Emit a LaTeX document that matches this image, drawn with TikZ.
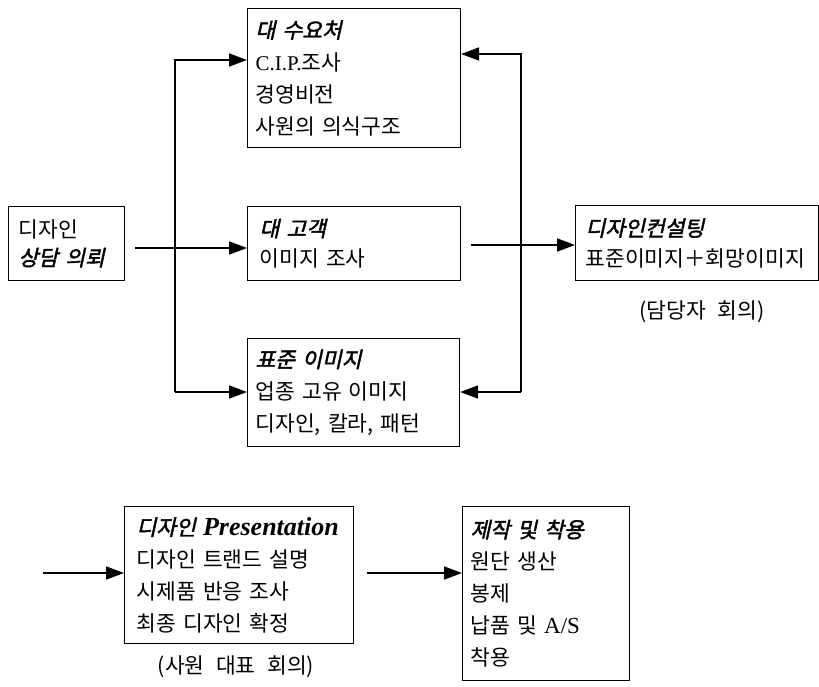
\documentclass[tikz,border=0pt]{standalone}
\usepackage{fontspec}
\usetikzlibrary{arrows.meta}
\newfontfamily\kr{Noto Sans CJK KR}[WordSpace=2.4]
\newfontfamily\krt{Noto Sans CJK KR}[WordSpace=2.4,FakeSlant=0.22,FakeBold=2]
\newfontfamily\lat{Liberation Serif}
\newcommand\latsz[1]{{\lat\fontsize{21}{32}\selectfont #1}}
\tikzset{
  bx/.style={draw, line width=1.1pt, align=left, inner xsep=8pt, anchor=north west,
    font=\kr\fontsize{21.5}{32}\selectfont},
  lbl/.style={font=\kr\fontsize{21.5}{32}\selectfont},
  arr/.style={line width=1.7pt, -{Triangle[length=18pt,width=13pt]}},
}
\begin{document}
\begin{tikzpicture}[x=1pt,y=-1pt]
\useasboundingbox (0,0) rectangle (819,686);
% boxes
\node[bx, inner xsep=10pt, minimum width=116pt, minimum height=74pt, text width=96pt,
  font=\kr\fontsize{21.5}{28}\selectfont] (A) at (8,206)
  {디자인\\{\krt 상담 의뢰}};
\node[bx, minimum width=213pt, minimum height=139pt, text width=197pt] (B) at (247,8)
  {{\krt 대 수요처}\\\latsz{C.I.P.}조사\\경영비전\\사원의 의식구조};
\node[bx, inner xsep=12pt, minimum width=213pt, minimum height=74pt, text width=189pt,
  font=\kr\fontsize{21.5}{30}\selectfont] (C) at (247,206)
  {{\krt 대 고객}\\이미지 조사};
\node[bx, minimum width=212pt, minimum height=108pt, text width=196pt] (D) at (247,338)
  {{\krt 표준 이미지}\\업종 고유 이미지\\디자인, 칼라, 패턴};
\node[bx, inner xsep=10pt, minimum width=243pt, minimum height=75pt, text width=223pt,
  font=\kr\fontsize{21.5}{30}\selectfont] (E) at (575,205)
  {{\krt 디자인컨설팅}\\표준이미지＋회망이미지};
\node[bx, inner xsep=12pt, minimum width=229pt, minimum height=137pt, text width=205pt] (F) at (124,506)
  {{\krt 디자인 {\lat\bfseries\itshape\fontsize{26}{32}\selectfont Presentation}}\\디자인 트랜드 설명\\시제품 반응 조사\\최종 디자인 확정};
\node[bx, minimum width=167pt, minimum height=174pt, text width=151pt] (G) at (462,506)
  {{\krt 제작 및 착용}\\원단 생산\\봉제\\납품 및 {\lat\fontsize{23}{32}\selectfont A/S}\\착용};
% labels
\node[lbl] (L1) at (702,312) {(담당자 회의)};
\node[lbl] (L2) at (236,667) {(사원 대표 회의)};
% connectors
\coordinate (a1) at (135,248);
\draw[arr] (a1) -- (a1 -| C.west);
\coordinate (jt) at (175,60);
\coordinate (jb) at (175,392);
\draw[arr] (jb) -- (jt) -- (jt -| B.west);
\draw[arr] (jb) -- (jb -| D.west);
\coordinate (c1) at (471,245);
\draw[arr] (c1) -- (c1 -| E.west);
\coordinate (rt) at (521,54);
\coordinate (rb) at (521,392);
\draw[arr] (rb) -- (rt) -- (rt -| B.east);
\draw[arr] (rb) -- (rb -| D.east);
\coordinate (f0) at (43,573);
\draw[arr] (f0) -- (f0 -| F.west);
\coordinate (f1) at (367,573);
\draw[arr] (f1) -- (f1 -| G.west);
\end{tikzpicture}
\end{document}
